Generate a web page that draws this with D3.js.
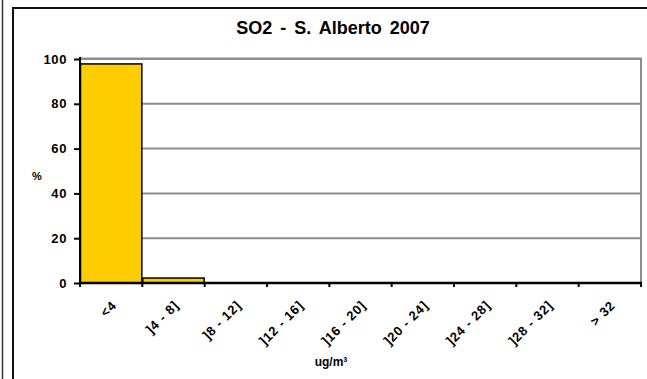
<!DOCTYPE html>
<html><head><meta charset="utf-8">
<script src="https://cdn.jsdelivr.net/npm/d3@7"></script>
<style>
html,body{margin:0;padding:0;background:#fff;}
svg{display:block;font-family:"Liberation Sans",Arial,sans-serif;}
</style></head>
<body>
<svg id="c" width="647" height="379"></svg>
<script>
const categories = ["<4", "]4 - 8]", "]8 - 12]", "]12 - 16]", "]16 - 20]", "]20 - 24]", "]24 - 28]", "]28 - 32]", "> 32"];
const values = [97.8, 2.2, 0, 0, 0, 0, 0, 0, 0];
const yTicks = [0, 20, 40, 60, 80, 100];
const title = "SO2 - S. Alberto 2007";
const yTitle = "%";
const xTitle = "ug/m³";

const svg = d3.select("#c");
svg.append("line").attr("x1",2.5).attr("x2",2.5).attr("y1",0).attr("y2",379).attr("stroke","#333").attr("stroke-width",1.5);
svg.append("path").attr("d","M13,379 V8 H647").attr("fill","none").attr("stroke","#111").attr("stroke-width",2);

const m = {l:80, r:641, t:59, b:283};
const x = d3.scaleBand().domain(categories).range([m.l, m.r]).padding(0);
const y = d3.scaleLinear().domain([0,100]).range([m.b, m.t]);

svg.append("path").attr("d",`M${m.l},${m.t-0.5} H${m.r} V${m.b}`).attr("fill","none").attr("stroke","#8c8c8c").attr("stroke-width",2);
svg.append("g").selectAll("line").data(yTicks.filter(d=>d>0)).join("line")
  .attr("x1",m.l).attr("x2",m.r).attr("y1",d=>y(d)).attr("y2",d=>y(d))
  .attr("stroke","#8c8c8c").attr("stroke-width",2);

svg.append("g").selectAll("rect").data(categories.map((c,i)=>({c,v:values[i]})).filter(d=>d.v>0)).join("rect")
  .attr("x",d=>x(d.c)+0.5).attr("width",x.bandwidth()-1)
  .attr("y",d=>y(d.v)).attr("height",d=>y(0)-y(d.v))
  .attr("fill","#FFCC00").attr("stroke","#000").attr("stroke-width",1.5);

const ya = svg.append("g").attr("transform",`translate(${m.l},0)`)
  .call(d3.axisLeft(y).tickValues(yTicks).tickSize(6).tickPadding(7));
ya.select(".domain").attr("stroke","#000").attr("stroke-width",2).attr("d",`M0,${m.t-2}V${m.b}`);
ya.selectAll(".tick line").attr("stroke","#000").attr("stroke-width",2);
ya.selectAll(".tick text").attr("font-size",13).attr("font-weight","bold").attr("fill","#000")
  .attr("letter-spacing","0.6px")
  .attr("font-family","Liberation Sans, Arial, sans-serif");

const boundaries = categories.map(c=>x(c)).concat([m.r]);
svg.append("line").attr("x1",m.l).attr("x2",m.r+1).attr("y1",m.b).attr("y2",m.b).attr("stroke","#000").attr("stroke-width",2.5);
svg.append("g").selectAll("line").data(boundaries).join("line")
  .attr("x1",d=>d).attr("x2",d=>d).attr("y1",m.b).attr("y2",m.b+4)
  .attr("stroke","#000").attr("stroke-width",2);

svg.append("g").selectAll("text").data(categories).join("text")
  .attr("transform",d=>`translate(${x(d)+x.bandwidth()/2+3},${m.b+20}) rotate(-45)`)
  .attr("text-anchor","end").attr("dy","0.35em")
  .attr("font-size",13).attr("font-weight","bold").attr("fill","#000")
  .attr("letter-spacing","0.8px")
  .text(d=>d);

svg.append("text").attr("x",333).attr("y",34).attr("text-anchor","middle")
  .attr("font-size",18).attr("font-weight","bold").attr("word-spacing","3px").text(title);
svg.append("text").attr("x",37).attr("y",180).attr("text-anchor","middle")
  .attr("font-size",11).attr("font-weight","bold").text(yTitle);
svg.append("text").attr("x",331).attr("y",366).attr("text-anchor","middle")
  .attr("font-size",12).attr("font-weight","bold").text(xTitle);
</script>
</body></html>
